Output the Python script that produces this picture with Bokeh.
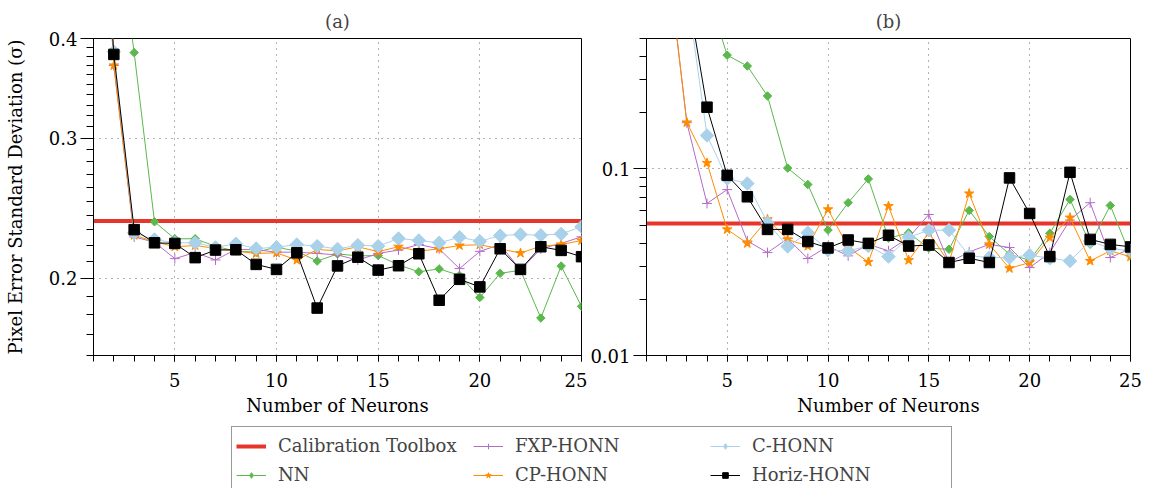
import math

from bokeh.embed import file_html
from bokeh.layouts import column, row
from bokeh.models import (CustomJSTickFormatter, FixedTicker, Legend, LegendItem,
                          Range1d, Span)
from bokeh.plotting import figure
from bokeh.resources import INLINE

# ---------------------------------------------------------------- data
neurons = list(range(1, 26))

x_major_ticks = [5, 10, 15, 20, 25]
x_minor_ticks = list(range(1, 26))

a_y_ticks = [0.2, 0.3, 0.4]
a_y_minor = [round(0.16 + 0.01 * i, 2) for i in range(25)]
b_y_ticks = [0.01, 0.1]
b_y_minor = [0.02, 0.03, 0.04, 0.05, 0.06, 0.07, 0.08, 0.09, 0.2, 0.3, 0.4, 0.5]

# (a) pixel error standard deviation
a_calibration = 0.236
a_nn = [1.0, 0.6, 0.384, 0.2355, 0.2242, 0.2242, 0.2194, 0.2163, 0.2157, 0.2188,
        0.2163, 0.2102, 0.2146, 0.2134, 0.2136, 0.2079, 0.2038, 0.2055, 0.2017,
        0.1892, 0.2029, 0.2047, 0.1783, 0.2072, 0.1844]
a_fxp = [1.0, 0.370, 0.2254, 0.2220, 0.2117, 0.2155, 0.2109, 0.2174, 0.2172, 0.2157,
         0.2157, 0.2149, 0.2140, 0.2108, 0.2149, 0.2170, 0.2205, 0.2178, 0.2057,
         0.2162, 0.2205, 0.2048, 0.2178, 0.2212, 0.2255]
a_cp = [1.0, 0.370, 0.2265, 0.2223, 0.2191, 0.2199, 0.2180, 0.2163, 0.2149, 0.2153,
        0.2108, 0.2174, 0.2165, 0.2191, 0.2160, 0.2191, 0.2163, 0.2178, 0.2199,
        0.2204, 0.2178, 0.2151, 0.2195, 0.2205, 0.2231]
a_c = [1.0, 0.385, 0.2281, 0.2237, 0.2216, 0.2216, 0.2187, 0.2210, 0.2180, 0.2188,
       0.2205, 0.2195, 0.2177, 0.2201, 0.2195, 0.2244, 0.2231, 0.2216, 0.2252,
       0.2226, 0.2263, 0.2270, 0.2265, 0.2274, 0.2321]
a_horiz = [1.0, 0.382, 0.2302, 0.2216, 0.2212, 0.2123, 0.2170, 0.2172, 0.2082, 0.2052,
           0.2153, 0.1835, 0.2073, 0.2126, 0.2048, 0.2074, 0.2147, 0.1877, 0.1994,
           0.1951, 0.2178, 0.2052, 0.2191, 0.2168, 0.2129]

# (b) pixel error standard deviation
b_calibration = 0.051
b_nn = [2.0, 1.6, 1.2, 0.9, 0.407, 0.356, 0.246, 0.101, 0.0825, 0.047,
        0.0659, 0.0884, 0.0425, 0.0454, 0.0376, 0.0371, 0.0599, 0.0434, 0.0349,
        0.0324, 0.0452, 0.0686, 0.0395, 0.0637, 0.0343]
b_fxp = [2.0, 1.5, 0.177, 0.0653, 0.0775, 0.0411, 0.0356, 0.0423, 0.0331, 0.0385,
         0.0342, 0.0394, 0.0364, 0.0428, 0.0570, 0.0315, 0.0359, 0.0394, 0.0379,
         0.0296, 0.0356, 0.0532, 0.0659, 0.0335, 0.0374]
b_cp = [2.0, 1.5, 0.1773, 0.1076, 0.0474, 0.0399, 0.0537, 0.0419, 0.0386, 0.0607,
        0.0380, 0.0317, 0.0632, 0.0324, 0.0455, 0.0315, 0.0738, 0.0394, 0.0293,
        0.0315, 0.0428, 0.0548, 0.0321, 0.0364, 0.0338]
b_c = [2.0, 1.5, 0.9, 0.1511, 0.0888, 0.0835, 0.0515, 0.0384, 0.0455, 0.0367,
       0.0364, 0.0386, 0.0339, 0.0430, 0.0469, 0.0470, 0.0342, 0.0335, 0.0335,
       0.0345, 0.0332, 0.0321, 0.0411, 0.0374, 0.0364]
b_horiz = [2.0, 1.5, 0.93, 0.2142, 0.0924, 0.0709, 0.0474, 0.0474, 0.0408, 0.0377,
           0.0416, 0.0399, 0.0441, 0.0386, 0.0391, 0.0315, 0.0332, 0.0315, 0.0895,
           0.0577, 0.0339, 0.0959, 0.0419, 0.0394, 0.0382]

# ---------------------------------------------------------------- styling
FONT = "DejaVu Serif"
FS = "18px"
RED = "#e8352b"

# marker for the plotted points, and a small stand-in for the legend key
STYLES = {
    "NN": dict(color="#5bb84d", marker="square", size=6, angle=math.pi / 4,
               key="diamond"),
    "FXP-HONN": dict(color="#b46cc8", marker="cross", size=10, angle=0.0,
                     key="cross"),
    "CP-HONN": dict(color="#ff8c00", marker="star", size=10, angle=0.0,
                    key="star"),
    "C-HONN": dict(color="#a9d1ea", marker="square", size=9.5, angle=math.pi / 4,
                   key="diamond"),
    "Horiz-HONN": dict(color="#000000", marker="square", size=10.5, angle=0.0,
                       key="square"),
}


def draw_series(p, name, ys):
    st = STYLES[name]
    p.line(neurons, ys, line_color=st["color"], line_width=1)
    p.scatter(neurons, ys, marker=st["marker"], size=st["size"], angle=st["angle"],
              fill_color=st["color"], line_color=st["color"], line_width=1)


def make_panel(title, y_range, y_ticks, y_minor, width, left_border, right_border,
               calibration, series, y_label=None):
    p = figure(width=width, height=418, x_range=Range1d(1, 25), y_range=y_range,
               y_axis_type="log", toolbar_location=None, output_backend="svg",
               min_border_left=left_border, min_border_right=right_border,
               min_border_top=38, min_border_bottom=61, title=title)
    p.background_fill_color = "white"
    p.border_fill_color = "white"
    p.outline_line_color = "black"
    p.outline_line_width = 1

    p.title.align = "center"
    p.title.text_font = FONT
    p.title.text_font_size = FS
    p.title.text_font_style = "normal"
    p.title.standoff = 14

    xa = p.xaxis[0]
    xa.ticker = FixedTicker(ticks=x_major_ticks, minor_ticks=x_minor_ticks)
    xa.major_tick_out = 6
    xa.minor_tick_out = 6
    xa.major_tick_in = 0
    xa.minor_tick_in = 0
    xa.major_label_standoff = 11
    xa.axis_label = "Number of Neurons"
    xa.axis_label_standoff = 5

    ya = p.yaxis[0]
    ya.ticker = FixedTicker(ticks=y_ticks, minor_ticks=y_minor)
    ya.formatter = CustomJSTickFormatter(code="return tick.toString();")
    ya.major_tick_out = 13
    ya.minor_tick_out = 7
    ya.major_tick_in = 0
    ya.minor_tick_in = 0
    ya.major_label_standoff = 3
    if y_label:
        ya.axis_label = y_label
        ya.axis_label_standoff = 20

    for ax in (xa, ya):
        ax.axis_line_color = "black"
        ax.major_tick_line_color = "black"
        ax.minor_tick_line_color = "black"
        ax.major_label_text_font = FONT
        ax.major_label_text_font_size = FS
        ax.major_label_text_color = "black"
        ax.axis_label_text_font = FONT
        ax.axis_label_text_font_size = FS
        ax.axis_label_text_font_style = "normal"
        ax.axis_label_text_color = "black"

    for g in (p.xgrid[0], p.ygrid[0]):
        g.grid_line_color = "#666666"
        g.grid_line_width = 1
        g.grid_line_dash = "1 5"

    p.add_layout(Span(location=calibration, dimension="width", line_color=RED,
                      line_width=4, level="underlay"))
    for name, ys in series:
        draw_series(p, name, ys)
    return p


pa = make_panel("(a)", Range1d(0.16, 0.4), a_y_ticks, a_y_minor, 587, 93, 6,
                a_calibration,
                [("NN", a_nn), ("FXP-HONN", a_fxp), ("CP-HONN", a_cp),
                 ("C-HONN", a_c), ("Horiz-HONN", a_horiz)],
                y_label="Pixel Error Standard Deviation (\u03c3)")
pb = make_panel("(b)", Range1d(0.01, 0.5), b_y_ticks, b_y_minor, 573, 57, 30,
                b_calibration,
                [("NN", b_nn), ("FXP-HONN", b_fxp), ("CP-HONN", b_cp),
                 ("C-HONN", b_c), ("Horiz-HONN", b_horiz)])

# ---------------------------------------------------------------- shared legend
# A strip below both panels; its proxy renderers sit outside the visible range so
# only the legend itself shows.
pl = figure(width=1160, height=70, toolbar_location=None, output_backend="svg",
            x_range=Range1d(10, 11), y_range=Range1d(10, 11),
            x_axis_location=None, y_axis_location=None,
            min_border_left=0, min_border_right=0, min_border_top=0, min_border_bottom=0)
pl.grid.visible = False
pl.outline_line_color = None
pl.background_fill_color = "white"
pl.border_fill_color = "white"

proxy = dict(x=[0], y=[0])
items = [LegendItem(label="Calibration Toolbox",
                    renderers=[pl.line(x=proxy["x"], y=proxy["y"], line_color=RED,
                                       line_width=4)])]
for name in ["NN", "FXP-HONN", "CP-HONN", "C-HONN", "Horiz-HONN"]:
    st = STYLES[name]
    r_line = pl.line(x=proxy["x"], y=proxy["y"], line_color=st["color"], line_width=1)
    r_mark = pl.scatter(x=proxy["x"], y=proxy["y"], marker=st["key"],
                        fill_color=st["color"], line_color=st["color"])
    items.append(LegendItem(label=name, renderers=[r_line, r_mark]))

legend = Legend(items=items, location=(231, -6), orientation="vertical", nrows=2,
                glyph_width=30, glyph_height=14, label_height=29, label_width=195,
                label_standoff=12, spacing=0, padding=4, margin=0,
                label_text_font=FONT, label_text_font_size=FS,
                border_line_color="#333333", border_line_width=1,
                background_fill_color="white", background_fill_alpha=1.0)
pl.add_layout(legend, "center")

layout = column(row(pa, pb), pl)

with open("out.html", "w") as f:
    f.write(file_html(layout, INLINE))
